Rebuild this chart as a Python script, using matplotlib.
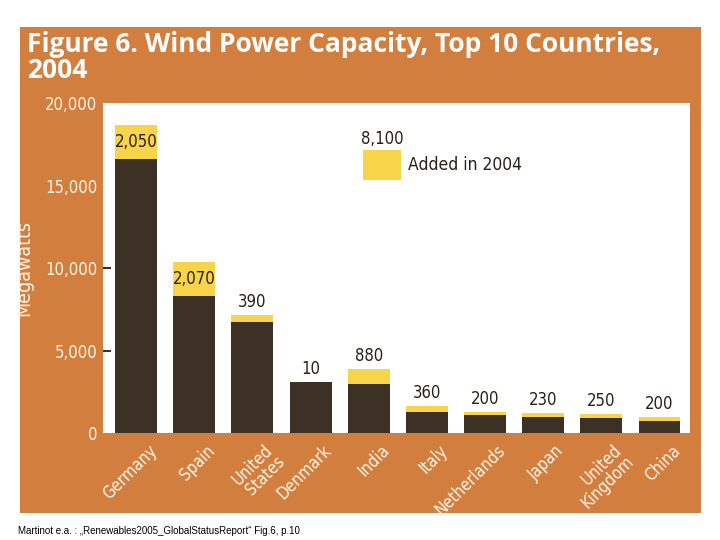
import numpy as np
import matplotlib.pyplot as plt
from matplotlib.patches import Rectangle

# data (megawatts)
countries = ["Germany", "Spain", "United\nStates", "Denmark", "India",
             "Italy", "Netherlands", "Japan", "United\nKingdom", "China"]
existing = [16600, 8300, 6750, 3100, 3000, 1270, 1100, 1000, 900, 750]
added = [2050, 2070, 390, 10, 880, 360, 200, 230, 250, 200]
added_labels = ["2,050", "2,070", "390", "10", "880", "360", "200", "230", "250", "200"]
yticks = [0, 5000, 10000, 15000, 20000]
ytick_labels = ["0", "5,000", "10,000", "15,000", "20,000"]
total_added = "8,100"

ORANGE = "#D27E3E"
DARK = "#3C3124"
YELLOW = "#F8D44A"
CREAM = "#FFF4E4"
NARROW = dict(family="DejaVu Sans", stretch="condensed")

fig = plt.figure(figsize=(7.2, 5.4), dpi=100)
fig.patches.append(Rectangle((0.028, 0.05), 0.946, 0.9, transform=fig.transFigure,
                             facecolor=ORANGE, edgecolor="none", zorder=-5))

fig.text(0.038, 0.942, "Figure 6. Wind Power Capacity, Top 10 Countries,\n2004",
         color="white", fontsize=19, fontweight="bold", family="Open Sans",
         va="top", ha="left", linespacing=0.95)

ax = fig.add_axes([0.143, 0.198, 0.815, 0.611])
ax.set_facecolor("white")
x = np.arange(len(countries))
ax.bar(x, existing, width=0.72, color=DARK, zorder=2)
ax.bar(x, added, width=0.72, bottom=existing, color=YELLOW, zorder=2)

for i in range(len(x)):
    top = existing[i] + added[i]
    if added[i] > 1500:
        ax.text(x[i], existing[i] + added[i] / 2, added_labels[i], ha="center", va="center",
                fontsize=12, color="#2A2016", **NARROW)
    else:
        ax.text(x[i], top + 250, added_labels[i], ha="center", va="bottom",
                fontsize=12, color="#2A2016", **NARROW)

ax.set_xlim(-0.57, 9.52)
ax.set_ylim(0, 20000)
ax.set_yticks(yticks)
ax.set_yticklabels(ytick_labels, fontsize=12, color=CREAM, **NARROW)
ax.tick_params(axis="y", length=6, width=1.5, color=DARK, direction="in", pad=4)
# only the 5,000 and 10,000 ticks show a mark in the original
for t, v in zip(ax.yaxis.get_major_ticks(), yticks):
    t.tick1line.set_visible(v in (5000, 10000))
ax.set_xticks(x + 0.2)
ax.set_xticklabels(countries, rotation=45, ha="right", va="top", rotation_mode="anchor",
                   fontsize=12, color=CREAM, linespacing=0.85, **NARROW)
ax.tick_params(axis="x", length=0, pad=6)
for s in ax.spines.values():
    s.set_visible(False)
ax.set_ylabel("Megawatts", fontsize=14, color=CREAM, **NARROW)
ax.yaxis.set_label_coords(-0.118, 0.5)

# legend box
ax.add_patch(Rectangle((3.9, 15350), 0.65, 1800, facecolor=YELLOW, edgecolor="none", zorder=3))
ax.text(4.225, 17300, total_added, ha="center", va="bottom", fontsize=12,
        color="#2A2016", **NARROW)
ax.text(4.68, 16250, "Added in 2004", ha="left", va="center", fontsize=12.5,
        color="#2A2016", **NARROW)

fig.text(0.025, 0.012, "Martinot e.a. : \u201eRenewables2005_GlobalStatusReport\u201c Fig.6, p.10",
         fontsize=7, family="Liberation Sans", color="black")

fig.savefig("out.png", dpi=100, facecolor="white")
